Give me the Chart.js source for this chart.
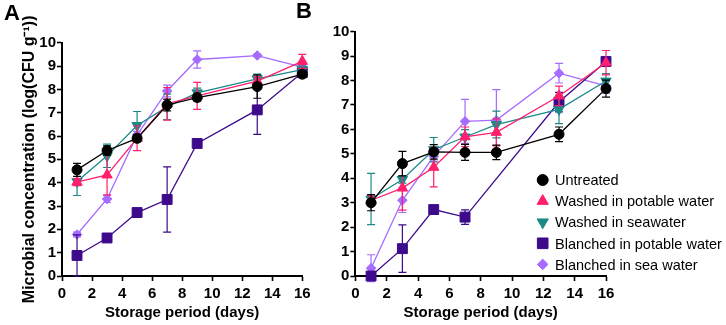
<!DOCTYPE html>
<html><head><meta charset="utf-8">
<script src="https://cdn.jsdelivr.net/npm/chart.js@4.4.1/dist/chart.umd.min.js"></script>
<style>
html,body{margin:0;padding:0;background:#fff;}
body{width:726px;height:325px;position:relative;overflow:hidden;font-family:"Liberation Sans",Arial,sans-serif;}
canvas{position:absolute;top:0;}
#cA{left:0;}
#cB{left:320px;}
.pl{position:absolute;font-weight:bold;font-size:22px;line-height:22px;color:#000;}
</style></head><body>
<canvas id="cA" width="345" height="325"></canvas>
<canvas id="cB" width="406" height="325"></canvas>
<div class="pl" style="left:4px;top:2px">A</div>
<div class="pl" style="left:296px;top:0px">B</div>
<script>
// ---- data ----
const days = [1, 3, 5, 7, 9, 13, 16];
const seriesNames = ["Untreated", "Washed in potable water", "Washed in seawater", "Blanched in potable water", "Blanched in sea water"];
const xTicks = [0, 2, 4, 6, 8, 10, 12, 14, 16];
const yTicks = [0, 1, 2, 3, 4, 5, 6, 7, 8, 9, 10];
const xTitle = "Storage period (days)";
const yTitle = "Microbial concentration (log(CFU g\u207B\u00B9))";

// Panel A
const untreatedA    = [4.55, 5.38, 5.90, 7.33, 7.65, 8.12, 8.65];
const untreatedAErr = [0.28, 0.20, 0.15, 0.25, 0.15, 0.50, 0.15];
const potableA      = [4.02, 4.33, 5.90, 7.38, 7.72, 8.35, 9.20];
const potableAErr   = [0.15, 0.85, 0.53, 0.70, 0.58, 0.20, 0.30];
const seawaterA     = [4.05, 5.15, 6.45, 7.25, 7.85, 8.45, 8.85];
const seawaterAErr  = [0.60, 0.50, 0.60, 0.55, 0.20, 0.20, 0.20];
const blPotableA    = [0.88, 1.63, 2.72, 3.28, 5.68, 7.12, 8.72];
const blPotableAErr = [0.88, 0.08, 0.08, 1.40, 0.08, 1.05, 0.15];
const blSeaA        = [1.78, 3.30, 6.05, 7.93, 9.28, 9.45, 8.95];
const blSeaAErr     = [0.10, 0.15, 0.15, 0.25, 0.37, 0.05, 0.10];

// Panel B
const untreatedB    = [3.00, 4.60, 5.08, 5.06, 5.06, 5.80, 7.67];
const untreatedBErr = [0.33, 0.50, 0.30, 0.33, 0.30, 0.30, 0.35];
const potableB      = [3.10, 3.60, 4.45, 5.70, 5.88, 7.37, 8.73];
const potableBErr   = [0.20, 0.90, 0.80, 0.40, 0.55, 0.40, 0.50];
const seawaterB     = [3.15, 3.95, 5.17, 5.69, 6.20, 6.82, 7.98];
const seawaterBErr  = [1.05, 0.15, 0.50, 0.30, 0.55, 0.58, 0.30];
const blPotableB    = [0.00, 1.12, 2.72, 2.41, null, 7.12, 8.78];
const blPotableBErr = [0.00, 0.97, 0.15, 0.30, 0.00, 0.40, 0.10];
const blSeaB        = [0.32, 3.10, 4.90, 6.33, 6.38, 8.30, 7.78];
const blSeaBErr     = [0.55, 0.50, 0.20, 0.90, 1.25, 0.40, 0.30];

// ---- styles ----
const FONT = '"Liberation Sans", Arial, sans-serif';
Chart.defaults.font.family = FONT;
Chart.defaults.color = '#000';
const colors = ['#000000', '#FF1F6E', '#1B8A87', '#3C0A8A', '#A66BFF'];
const pStyles = ['circle', 'triangle', 'triangle', 'rect', 'rectRot'];
const pRot = [0, 0, 180, 0, 0];
const pRad = [5, 6, 6, 7, 4.8];

function makeDatasets(vals, errs) {
  return vals.map((v, i) => ({
    label: seriesNames[i],
    data: days.map((d, j) => ({x: d, y: v[j]})),
    errors: errs[i],
    borderColor: colors[i],
    backgroundColor: colors[i],
    pointBackgroundColor: colors[i],
    pointBorderColor: colors[i],
    pointStyle: pStyles[i],
    pointRotation: pRot[i],
    pointRadius: pRad[i],
    pointBorderWidth: 1,
    borderWidth: 1.3,
    spanGaps: true,
    clip: false,
    tension: 0
  }));
}

const errorBarPlugin = {
  id: 'errbars',
  beforeDatasetDraw(chart, args) {
    const ds = chart.data.datasets[args.index];
    if (!ds.errors) return;
    const ctx = chart.ctx, ys = chart.scales.y;
    ctx.save();
    ctx.strokeStyle = ds.borderColor;
    ctx.lineWidth = 1.2;
    args.meta.data.forEach((pt, i) => {
      const v = ds.data[i].y, e = ds.errors[i];
      if (v == null || !e) return;
      const x = pt.x;
      const y1 = ys.getPixelForValue(v + e), y2 = ys.getPixelForValue(v - e);
      ctx.beginPath();
      ctx.moveTo(x, y1); ctx.lineTo(x, y2);
      ctx.moveTo(x - 4, y1); ctx.lineTo(x + 4, y1);
      ctx.moveTo(x - 4, y2); ctx.lineTo(x + 4, y2);
      ctx.stroke();
    });
    ctx.restore();
  }
};

const legendPlugin = {
  id: 'inlegend',
  afterDraw(chart) {
    const ctx = chart.ctx, ca = chart.chartArea;
    chart.data.datasets.forEach((ds, i) => {
      const y = ca.bottom - 96 + i * 21.1;
      const x = ca.right - 63.3;
      ctx.save();
      ctx.fillStyle = ds.pointBackgroundColor;
      ctx.strokeStyle = ds.pointBorderColor;
      ctx.lineWidth = 1;
      Chart.helpers.drawPoint(ctx, {pointStyle: ds.pointStyle, radius: ds.pointRadius + 0.5, rotation: ds.pointRotation, borderWidth: 1}, x, y);
      ctx.fillStyle = '#000';
      ctx.font = '14.5px ' + FONT;
      ctx.textBaseline = 'alphabetic';
      ctx.textAlign = 'left';
      ctx.fillText(ds.label, ca.right - 51, y + 5.2);
      ctx.restore();
    });
  }
};

function makeScales(yWidth, showYTitle) {
  return {
    x: {
      type: 'linear', min: 0, max: 16,
      afterBuildTicks(s) { s.ticks = xTicks.map(v => ({value: v})); },
      ticks: {color: '#000', font: {size: 15, weight: 'bold'}, padding: 4, maxRotation: 0, autoSkip: false},
      grid: {drawOnChartArea: false, color: '#000', tickLength: 5, tickWidth: 1.6},
      border: {color: '#000', width: 2},
      title: {display: true, text: xTitle, color: '#000', font: {size: 15, weight: 'bold'}, padding: {top: 0, bottom: 3}},
      afterFit(s) { s.height = 49; }
    },
    y: {
      type: 'linear', min: 0, max: 10,
      afterBuildTicks(s) { s.ticks = yTicks.map(v => ({value: v})); },
      ticks: {color: '#000', font: {size: 15, weight: 'bold'}, padding: 1, autoSkip: false},
      grid: {drawOnChartArea: false, color: '#000', tickLength: 5, tickWidth: 1.6},
      border: {color: '#000', width: 2},
      title: {display: showYTitle, text: yTitle, color: '#000', font: {size: 16, weight: 'bold'}, padding: {top: 19.5, bottom: 0}},
      afterFit(s) { s.width = yWidth; }
    }
  };
}

function baseOptions(padding, yWidth, showYTitle) {
  return {
    responsive: false,
    animation: false,
    devicePixelRatio: 1,
    layout: {padding: padding},
    plugins: {legend: {display: false}, tooltip: {enabled: false}},
    scales: makeScales(yWidth, showYTitle)
  };
}

new Chart(document.getElementById('cA'), {
  type: 'line',
  data: {datasets: makeDatasets(
    [untreatedA, potableA, seawaterA, blPotableA, blSeaA],
    [untreatedAErr, potableAErr, seawaterAErr, blPotableAErr, blSeaAErr])},
  options: baseOptions({top: 42.7, right: 42.7, left: 0, bottom: 0}, 62, true),
  plugins: [errorBarPlugin]
});

new Chart(document.getElementById('cB'), {
  type: 'line',
  data: {datasets: makeDatasets(
    [untreatedB, potableB, seawaterB, blPotableB, blSeaB],
    [untreatedBErr, potableBErr, seawaterBErr, blPotableBErr, blSeaBErr])},
  options: baseOptions({top: 31.7, right: 120, left: 0, bottom: 0}, 35.4, false),
  plugins: [errorBarPlugin, legendPlugin]
});
</script>
</body></html>
